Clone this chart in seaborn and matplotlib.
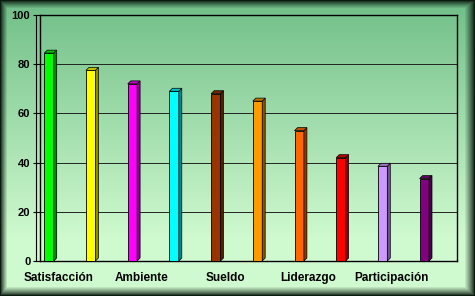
import numpy as np
import matplotlib
matplotlib.use("Agg")
import matplotlib.pyplot as plt
import seaborn as sns
import pandas as pd
import matplotlib.colors as mcolors
from matplotlib.patches import Polygon
from matplotlib.transforms import ScaledTranslation

# ---- data ----
categories = ["Satisfacción", "Cat 2", "Ambiente", "Cat 4", "Sueldo",
              "Cat 6", "Liderazgo", "Cat 8", "Participación", "Cat 10"]
values = [84.5, 77.5, 72, 69, 68, 65, 53, 42, 38.5, 33.5]
bar_colors = ["#00ff00", "#ffff00", "#ff00ff", "#00ffff", "#993300",
              "#ff9900", "#ff6600", "#ff0000", "#cc99ff", "#800080"]
tick_labels = ["Satisfacción", "Ambiente", "Sueldo", "Liderazgo", "Participación"]
tick_idx = [0, 2, 4, 6, 8]
yticks = [0, 20, 40, 60, 80, 100]

df = pd.DataFrame({"cat": categories, "val": values})

W, H = 475, 296
fig = plt.figure(figsize=(W / 100, H / 100), dpi=100)

# ---- background: vertical green gradient with dark beveled frame ----
bg = fig.add_axes([0, 0, 1, 1], zorder=-10)
yy = np.linspace(0, 1, H)[:, None]
top = np.array(mcolors.to_rgb("#70be88"))
bot = np.array(mcolors.to_rgb("#cff9cf"))
t = np.clip(yy * 1.25, 0, 1)
img = top[None, None, :] * (1 - t[..., None]) + bot[None, None, :] * t[..., None]
img = np.repeat(img, W, axis=1)
ys = np.arange(H)[:, None] * np.ones((1, W))
xs = np.ones((H, 1)) * np.arange(W)[None, :]
d = np.minimum.reduce([xs / 7.0, (W - 1 - xs) / 10.0, ys / 8.0, (H - 1 - ys) / 9.0])
f = np.clip(d, 0, 1) ** 0.8
edge = np.array(mcolors.to_rgb("#0a1a0e"))
img = img * f[..., None] + edge[None, None, :] * (1 - f[..., None])
bg.imshow(img, aspect="auto", extent=[0, 1, 0, 1], origin="upper")
bg.axis("off")

# ---- main axes ----
ax = fig.add_axes([40 / W, 35 / H, 417 / W, 246 / H])
ax.patch.set_alpha(0)
sns.barplot(data=df, x="cat", y="val", hue="cat", palette=bar_colors,
            legend=False, width=0.225, saturation=1, ax=ax,
            edgecolor="black", linewidth=0.6, zorder=3)
ax.set_xlim(-0.216, len(categories) - 0.216)
ax.set_ylim(0, 100)
ax.set_yticks(yticks)
ax.set_yticklabels([str(v) for v in yticks])
ax.set_xticks([i + 0.22 for i in tick_idx])
ax.set_xticklabels(tick_labels)
ax.set_xlabel("")
ax.set_ylabel("")
ax.yaxis.grid(True, color="#222222", lw=0.7)
ax.xaxis.grid(False)
ax.set_axisbelow(True)
for s in ax.spines.values():
    s.set_color("black")
    s.set_linewidth(1.0)
    s.set_visible(True)
ax.tick_params(axis="x", length=0, pad=8)
ax.tick_params(axis="y", length=5, width=0.8, direction="out", pad=2, color="black")
for lab in ax.get_xticklabels():
    lab.set_fontfamily("Liberation Sans")
    lab.set_fontweight("bold")
    lab.set_fontsize(8.5)
    lab.set_color("black")
for lab in ax.get_yticklabels():
    lab.set_fontfamily("Liberation Sans")
    lab.set_fontweight("bold")
    lab.set_fontsize(8)
    lab.set_color("black")

# back wall double line on the left
ax.plot([0, 0], [0, 1], transform=ax.transAxes + ScaledTranslation(-4 / 100, 0, fig.dpi_scale_trans),
        color="black", lw=0.8, clip_on=False)

# ---- 3D faces on bars ----
fig.canvas.draw()
inv = ax.transData.inverted()
p0 = inv.transform((0, 0))
p1 = inv.transform((3, 3))
dx, dy = p1[0] - p0[0], p1[1] - p0[1]
for p, c in zip(ax.patches, bar_colors):
    x0, w, h = p.get_x(), p.get_width(), p.get_height()
    rgb = np.array(mcolors.to_rgb(c))
    side = Polygon([(x0 + w, 0), (x0 + w + dx, dy), (x0 + w + dx, h + dy), (x0 + w, h)],
                   closed=True, facecolor=rgb * 0.55, edgecolor="black", lw=0.5, zorder=3)
    topf = Polygon([(x0, h), (x0 + dx, h + dy), (x0 + w + dx, h + dy), (x0 + w, h)],
                   closed=True, facecolor=rgb * 0.75, edgecolor="black", lw=0.5, zorder=3)
    ax.add_patch(side)
    ax.add_patch(topf)

fig.savefig("out.png", dpi=100)
